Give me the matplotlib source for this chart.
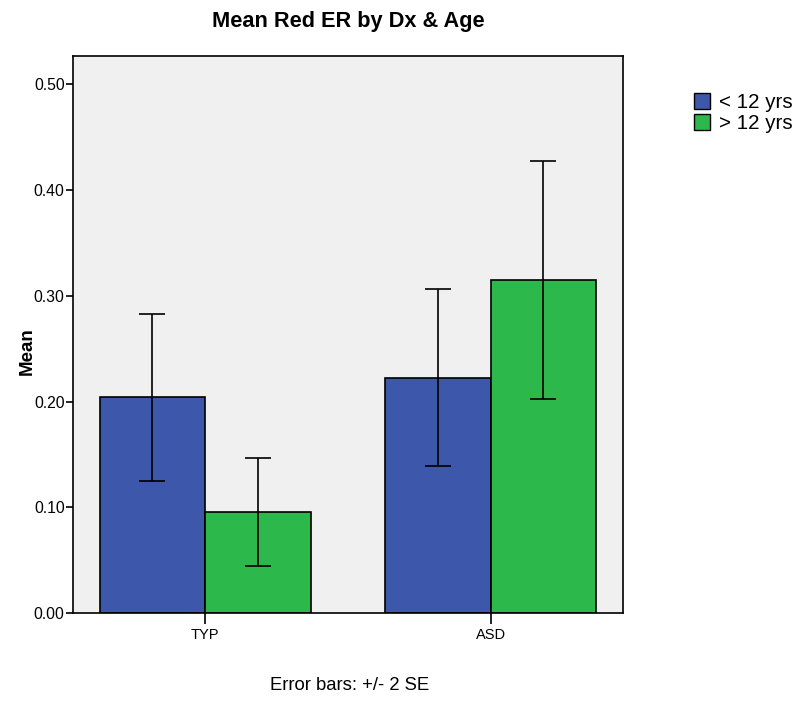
import numpy as np
import matplotlib
matplotlib.use('Agg')
import matplotlib.pyplot as plt
from matplotlib.patches import Patch

plt.rcParams['font.family'] = ['Liberation Sans', 'DejaVu Sans']

# data
groups = ['TYP', 'ASD']
series = ['< 12 yrs', '> 12 yrs']
means = {'< 12 yrs': [0.204, 0.2224],
         '> 12 yrs': [0.0955, 0.3149]}
errs = {'< 12 yrs': [0.079, 0.0836],
        '> 12 yrs': [0.0515, 0.1127]}
colors = {'< 12 yrs': '#3d58ab', '> 12 yrs': '#2db84b'}

fig = plt.figure(figsize=(8, 7.03), dpi=100)
ax = fig.add_axes([0.0912, 0.128, 0.6875, 0.792])
ax.set_facecolor('#f0f0f0')

x = np.arange(len(groups))
w = 0.37
offsets = [-w / 2, w / 2]
for s, off in zip(series, offsets):
    ax.bar(x + off, means[s], width=w, color=colors[s], edgecolor='black',
           linewidth=1.2, zorder=2)
    ax.errorbar(x + off, means[s], yerr=errs[s], fmt='none', ecolor='black',
                elinewidth=1.2, capsize=9.7, capthick=1.2, zorder=3)

ax.set_xlim(-0.4636, 1.4636)
ax.set_ylim(0, 0.5265)
ax.set_yticks([0, 0.1, 0.2, 0.3, 0.4, 0.5])
ax.set_yticklabels(['%.2f' % v for v in [0, 0.1, 0.2, 0.3, 0.4, 0.5]], fontsize=11.3)
ax.set_xticks(x)
ax.set_xticklabels(groups, fontsize=10.5)
ax.tick_params(axis='y', length=5, width=1.2, pad=1)
ax.tick_params(axis='x', length=8, width=1.2, pad=3)
for sp in ax.spines.values():
    sp.set_linewidth(1.2)

ax.set_ylabel('Mean', fontsize=13.5, fontweight='bold')
ax.yaxis.set_label_coords(-0.068, 0.47)
fig.text(0.435, 0.97, 'Mean Red ER by Dx & Age', ha='center', va='center',
         fontsize=15.7, fontweight='bold')
fig.text(0.437, 0.025, 'Error bars: +/- 2 SE', ha='center', va='center',
         fontsize=13.3)

handles = [Patch(facecolor=colors[s], edgecolor='black', linewidth=1.0, label=s)
           for s in series]
fig.legend(handles=handles, loc='upper left', bbox_to_anchor=(0.867, 0.868),
           frameon=False, fontsize=14.8, handlelength=0.8, handleheight=0.8,
           handletextpad=0.45, labelspacing=0.1, borderaxespad=0, borderpad=0)

fig.savefig('out.png', dpi=100)
